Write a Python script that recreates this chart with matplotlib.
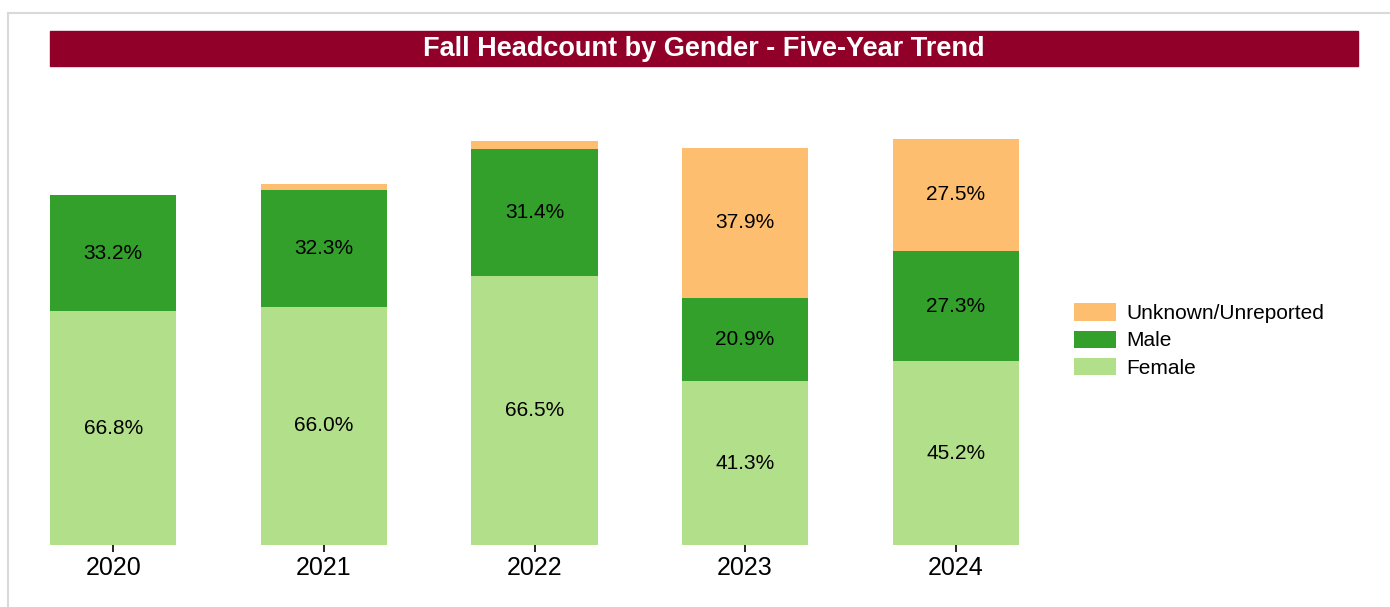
import matplotlib.pyplot as plt
from matplotlib.patches import Rectangle
from matplotlib.lines import Line2D
import numpy as np

plt.rcParams["font.family"] = ["Liberation Sans", "DejaVu Sans"]

years = ["2020", "2021", "2022", "2023", "2024"]
totals = [3500, 3610, 4040, 3970, 4060]  # estimated headcount
female_pct = [66.8, 66.0, 66.5, 41.3, 45.2]
male_pct = [33.2, 32.3, 31.4, 20.9, 27.3]
unknown_pct = [0.0, 1.7, 2.1, 37.9, 27.5]

c_female = "#b2df8a"
c_male = "#33a02c"
c_unknown = "#fdbf6f"

W, H = 1390, 607
fig = plt.figure(figsize=(W / 100, H / 100), dpi=100)

# axes: bottom at y=545px, top at y=95px
ax = fig.add_axes([8 / W, 1 - 545 / H, (1061 - 8) / W, 450 / H])

x = np.arange(len(years))
tot = np.array(totals, dtype=float)
f = tot * np.array(female_pct) / 100
m = tot * np.array(male_pct) / 100
u = tot * np.array(unknown_pct) / 100

bw = 0.6
bf = ax.bar(x, f, bw, color=c_female, label="Female")
bm = ax.bar(x, m, bw, bottom=f, color=c_male, label="Male")
bu = ax.bar(x, u, bw, bottom=f + m, color=c_unknown, label="Unknown/Unreported")

for vals, bottoms, pcts in [(f, np.zeros_like(f), female_pct),
                            (m, f, male_pct),
                            (u, f + m, unknown_pct)]:
    for xi, v, b, p in zip(x, vals, bottoms, pcts):
        if p >= 5:
            ax.text(xi, b + v / 2, f"{p:.1f}%", ha="center", va="center",
                    fontsize=15, color="black")

ax.set_xlim(-0.5, 4.5)
ax.set_ylim(0, 4500)
ax.set_xticks(x)
ax.set_xticklabels(years, fontsize=18)
ax.tick_params(axis="x", length=5, width=1.2, color="black", pad=3)
ax.set_yticks([])
for s in ax.spines.values():
    s.set_visible(False)

ax.legend(handles=[bu, bm, bf], loc="upper left",
          bbox_to_anchor=(1068 / W, 1 - 297 / H), bbox_transform=fig.transFigure,
          frameon=False, fontsize=15, handlelength=2.0, handleheight=0.9,
          handletextpad=0.5, labelspacing=0.36, borderaxespad=0, borderpad=0.3)

# title band
fig.patches.append(Rectangle((50 / W, 1 - 66 / H), (1358 - 50) / W, 35 / H,
                             transform=fig.transFigure, color="#900028",
                             zorder=0))
fig.text(704 / W, 1 - 48.5 / H, "Fall Headcount by Gender - Five-Year Trend",
         ha="center", va="center", color="white", fontsize=19.5,
         fontweight="bold")

# outer border (top and left visible)
fig.add_artist(Line2D([8 / W, 1], [1 - 13 / H, 1 - 13 / H],
                      transform=fig.transFigure, color="#d9d9d9", lw=1.5))
fig.add_artist(Line2D([8 / W, 8 / W], [0, 1 - 13 / H],
                      transform=fig.transFigure, color="#d9d9d9", lw=1.5))

fig.savefig("out.png", dpi=100)
